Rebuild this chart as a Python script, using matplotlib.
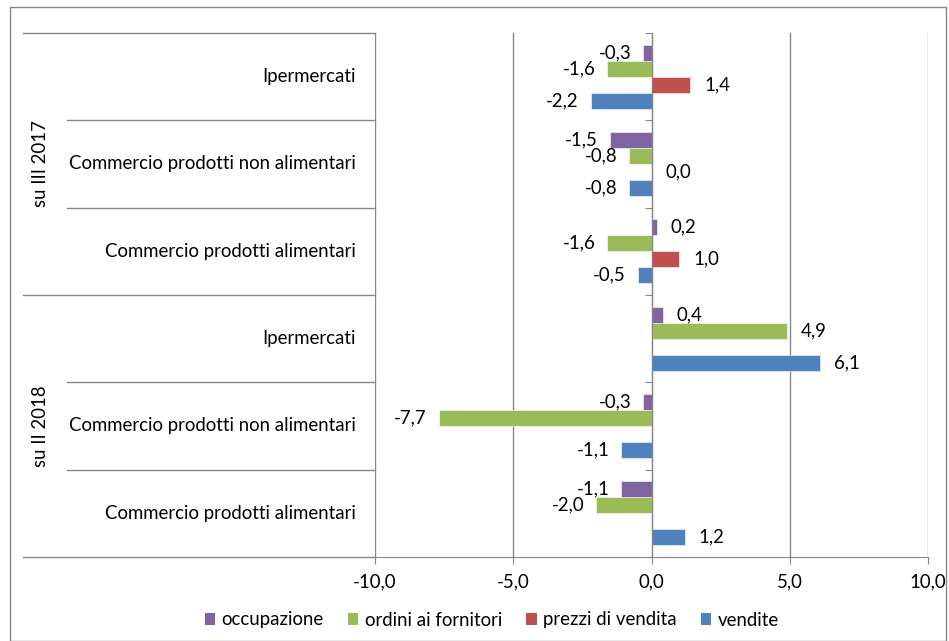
import numpy as np
import matplotlib
matplotlib.use("Agg")
import matplotlib.pyplot as plt
from matplotlib.patches import Rectangle, Patch
from matplotlib.lines import Line2D
import matplotlib.transforms as mtrans

plt.rcParams['font.family'] = ['Lato', 'DejaVu Sans']
FS = 13.4

# categories bottom-to-top
categories = ["Commercio prodotti alimentari", "Commercio prodotti non alimentari", "Ipermercati",
              "Commercio prodotti alimentari", "Commercio prodotti non alimentari", "Ipermercati"]
groups = ["su II 2018", "su III 2017"]
series_names = ["occupazione", "ordini ai fornitori", "prezzi di vendita", "vendite"]
vendite = [1.2, -1.1, 6.1, -0.5, -0.8, -2.2]
prezzi = [np.nan, np.nan, np.nan, 1.0, 0.0, 1.4]
ordini = [-2.0, -7.7, 4.9, -1.6, -0.8, -1.6]
occupazione = [-1.1, -0.3, 0.4, 0.2, -1.5, -0.3]
xticks = [-10, -5, 0, 5, 10]

colors = {"occupazione": "#8064A2", "ordini ai fornitori": "#9BBB59",
          "prezzi di vendita": "#C0504D", "vendite": "#4F81BD"}

W, H = 949, 641
fig = plt.figure(figsize=(W / 100, H / 100), dpi=100)
ax = fig.add_axes([375 / W, 1 - 557 / H, (928 - 375) / W, (557 - 33) / H])

y = np.arange(len(categories))
h = 0.183
series = [("vendite", vendite, -1.5), ("prezzi di vendita", prezzi, -0.5),
          ("ordini ai fornitori", ordini, 0.5), ("occupazione", occupazione, 1.5)]
for name, vals, off in series:
    vals = np.array(vals, dtype=float)
    mask = ~np.isnan(vals)
    ax.barh(y[mask] + off * h, vals[mask], height=h, color=colors[name],
            edgecolor='white', linewidth=0.4, zorder=3)
    for yi, v in zip(y[mask] + off * h, vals[mask]):
        lab = f"{v:.1f}".replace(".", ",")
        if v >= 0:
            ax.annotate(lab, (v, yi), xytext=(10, 0), textcoords='offset points',
                        ha='left', va='center', fontsize=FS, zorder=4)
        else:
            ax.annotate(lab, (v, yi), xytext=(-8.5, 0), textcoords='offset points',
                        ha='right', va='center', fontsize=FS, zorder=4)

ax.set_xlim(-10, 10)
ax.set_ylim(-0.5, 5.5)
ax.set_xticks(xticks)
ax.set_xticklabels([f"{t:.1f}".replace(".", ",") for t in xticks], fontsize=FS)
ax.tick_params(axis='x', length=5, color='#868686', pad=7)
ax.xaxis.grid(True, color='#868686', linewidth=1, zorder=0)
ax.set_axisbelow(True)

for s in ['top', 'right']:
    ax.spines[s].set_visible(False)
ax.spines['bottom'].set_color('#868686')
ax.spines['left'].set_position(('data', 0))
ax.spines['left'].set_color('#868686')
ax.spines['left'].set_zorder(5)
ax.set_yticks(np.arange(-0.5, 6, 1))
ax.set_yticklabels([])
ax.tick_params(axis='y', length=5, color='#868686', direction='out')

# multi-level category axis
tr = mtrans.blended_transform_factory(fig.transFigure, ax.transData)
for yy in [-0.5, 2.5, 5.5]:
    fig.add_artist(Line2D([23 / W, 375 / W], [yy, yy], transform=tr, color='#868686', lw=1))
for yy in [0.5, 1.5, 3.5, 4.5]:
    fig.add_artist(Line2D([67 / W, 375 / W], [yy, yy], transform=tr, color='#868686', lw=1))
for yi, c in zip(y, categories):
    fig.text(356 / W, yi, c, transform=tr, ha='right', va='center', fontsize=FS)
for yc, g in zip([1.0, 4.0], groups):
    fig.text(40 / W, yc, g, transform=tr, ha='center', va='center', rotation=90, fontsize=FS)

# legend
handles = [Patch(facecolor=colors[n], edgecolor='none') for n in series_names]
fig.legend(handles, series_names, loc='center', ncol=4, frameon=False,
           bbox_to_anchor=(492 / W, 1 - 620 / H), fontsize=FS,
           handlelength=0.55, handleheight=0.55, handletextpad=0.35, columnspacing=1.3)

# outer frame
fig.add_artist(Rectangle((10 / W, 0), (946 - 10) / W, 1 - 7 / H, transform=fig.transFigure,
                         fill=False, edgecolor='#868686', lw=1))

fig.savefig("out.png", dpi=100)
